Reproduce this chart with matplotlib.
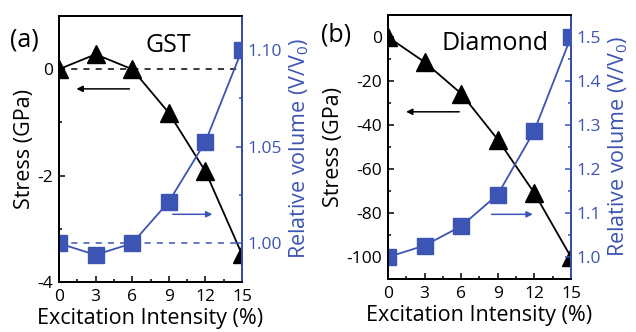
import matplotlib
matplotlib.use("Agg")
import matplotlib.pyplot as plt
from matplotlib.ticker import MultipleLocator

plt.rcParams['font.family'] = ['Open Sans', 'DejaVu Sans']
plt.rcParams['mathtext.fontset'] = 'custom'
plt.rcParams['mathtext.rm'] = 'Open Sans'
plt.rcParams['mathtext.it'] = 'Open Sans'
plt.rcParams['axes.unicode_minus'] = False

BLUE = '#3c54b4'

intensity = [0, 3, 6, 9, 12, 15]
gst_stress = [0.0, 0.28, 0.0, -0.82, -1.92, -3.48]
gst_volume = [1.000, 0.994, 1.000, 1.0215, 1.0525, 1.100]
dia_stress = [0.0, -11.4, -25.7, -46.6, -70.9, -100.0]
dia_volume = [1.000, 1.026, 1.070, 1.142, 1.287, 1.500]
xticks = [0, 3, 6, 9, 12, 15]

fig = plt.figure(figsize=(6.36, 3.32), dpi=100)
TICK = 12.5
LAB = 15.5

def style(ax, ax2):
    for a in (ax, ax2):
        for s in a.spines.values():
            s.set_linewidth(1.3)
    ax2.spines['right'].set_color(BLUE)
    ax2.spines['left'].set_color('black')
    ax.tick_params(which='both', direction='in', labelsize=TICK, width=1.1, pad=4)
    ax.tick_params(axis='x', pad=5)
    ax.tick_params(which='major', length=4)
    ax.tick_params(which='minor', length=2.5)
    ax2.tick_params(which='both', direction='in', labelsize=TICK, colors=BLUE, width=1.1, pad=4)
    ax2.tick_params(which='major', length=4)
    ax2.tick_params(which='minor', length=2.5)
    ax.set_xlim(0, 15)
    ax.set_xticks(xticks)
    ax.xaxis.set_minor_locator(MultipleLocator(1.5))
    ax.set_xlabel('Excitation Intensity (%)', fontsize=LAB, labelpad=2.5)

# Panel (a)
ax = fig.add_axes([0.0928, 0.1506, 0.2877, 0.8012])
ax2 = ax.twinx()
style(ax, ax2)
ax.set_ylim(-4, 1)
ax.set_yticks([0, -2, -4])
ax.yaxis.set_minor_locator(MultipleLocator(1))
ax2.set_ylim(0.98, 1.1175)
ax2.set_yticks([1.00, 1.05, 1.10])
ax2.set_yticklabels(['1.00', '1.05', '1.10'])
ax2.yaxis.set_minor_locator(MultipleLocator(0.025))
ax.plot([0, 14.6], [0, 0], ls=(0, (4, 4)), color='black', lw=1.1)
ax2.plot([0, 15], [1.0, 1.0], ls=(0, (4, 4)), color=BLUE, lw=1.1)
ax.plot(intensity, gst_stress, '-^', color='black', ms=12.5, lw=1.3)
ax2.plot(intensity, gst_volume, '-s', color=BLUE, ms=11, lw=1.3)
ax.annotate('', xy=(1.2, -0.37), xytext=(6.0, -0.37),
            arrowprops=dict(arrowstyle='-|>', color='black', lw=1.1, mutation_scale=9))
ax2.annotate('', xy=(12.8, 1.015), xytext=(9.1, 1.015),
             arrowprops=dict(arrowstyle='-|>', color=BLUE, lw=1.1, mutation_scale=9))
ax.text(9.0, 0.45, 'GST', fontsize=18, ha='center', va='center')
ax.set_ylabel('Stress (GPa)', fontsize=LAB, labelpad=2)
ax2.set_ylabel('Relative volume (V/V$_0$)', fontsize=LAB, color=BLUE, labelpad=4)
fig.text(0.038, 0.88, '(a)', fontsize=18, ha='center', va='center')

# Panel (b)
bx = fig.add_axes([0.610, 0.1596, 0.2877, 0.7952])
bx2 = bx.twinx()
style(bx, bx2)
bx.set_ylim(-110, 10)
bx.set_yticks([0, -20, -40, -60, -80, -100])
bx.yaxis.set_minor_locator(MultipleLocator(10))
bx2.set_ylim(0.95, 1.55)
bx2.set_yticks([1.0, 1.1, 1.2, 1.3, 1.4, 1.5])
bx2.yaxis.set_minor_locator(MultipleLocator(0.05))
bx.plot(intensity, dia_stress, '-^', color='black', ms=12.5, lw=1.3)
bx2.plot(intensity, dia_volume, '-s', color=BLUE, ms=11, lw=1.3)
bx.annotate('', xy=(1.26, -34), xytext=(6.07, -34),
            arrowprops=dict(arrowstyle='-|>', color='black', lw=1.1, mutation_scale=9))
bx2.annotate('', xy=(12.1, 1.097), xytext=(8.27, 1.097),
             arrowprops=dict(arrowstyle='-|>', color=BLUE, lw=1.1, mutation_scale=9))
bx.text(8.8, -2.9, 'Diamond', fontsize=18, ha='center', va='center')
bx.set_ylabel('Stress (GPa)', fontsize=LAB, labelpad=2)
bx2.set_ylabel('Relative volume (V/V$_0$)', fontsize=LAB, color=BLUE, labelpad=4)
fig.text(0.528, 0.895, '(b)', fontsize=18, ha='center', va='center')

fig.savefig('out.png', dpi=100)
